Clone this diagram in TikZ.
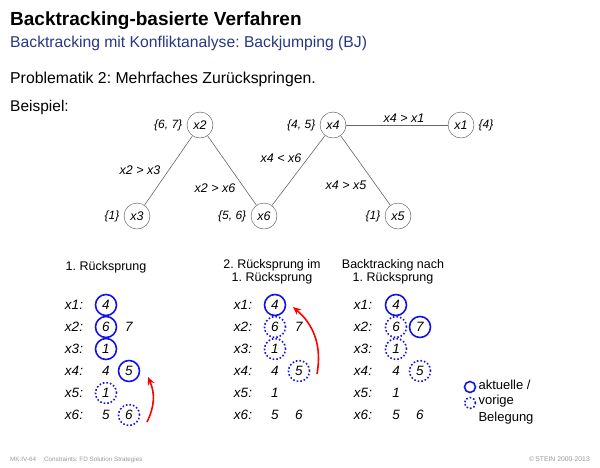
\documentclass[tikz,border=0pt]{standalone}
\usepackage{fontspec}
\setmainfont{Liberation Sans}
\usetikzlibrary{arrows.meta, positioning}
\definecolor{slideblue}{RGB}{40, 55, 130}
\definecolor{beleg}{RGB}{20, 20, 230}
\frenchspacing

\begin{document}
\begin{tikzpicture}[x=1pt, y=-1pt,
  var/.style={circle, draw=black!70, inner sep=0pt, minimum size=26pt, font=\itshape\fontsize{12.5}{12.5}\selectfont},
  dom/.style={font=\itshape\fontsize{12}{12}\selectfont},
  cons/.style={font=\itshape\fontsize{12.5}{12.5}\selectfont},
  edge/.style={draw=black!60, line width=0.6pt},
  lbl/.style={font=\itshape\fontsize{13.5}{13.5}\selectfont},
  val/.style={inner sep=0pt, minimum size=21pt, font=\itshape\fontsize{13.5}{13.5}\selectfont},
  cur/.style={val, circle, draw=beleg, line width=1.6pt},
  prev/.style={val, circle, draw=beleg, line width=1.6pt, dotted},
  head/.style={align=center, inner sep=0pt, font=\fontsize{12.5}{13}\selectfont},
  jump/.style={red, line width=1.6pt, -{Stealth[length=8pt, width=7pt]}}
]
  \useasboundingbox (0,0) rectangle (600,467);

  % title
  \node[anchor=base west, inner sep=0pt, font=\bfseries\fontsize{19}{19}\selectfont] (title) at (10,25) {Backtracking-basierte Verfahren};
  \node[anchor=base west, inner sep=0pt, text=slideblue, font=\fontsize{15.7}{15.7}\selectfont] (subtitle) at (10,47) {Backtracking mit Konfliktanalyse: Backjumping (BJ)};
  \node[anchor=base west, inner sep=0pt, font=\fontsize{15.8}{15.8}\selectfont] (problem) at (10,83) {Problematik 2: Mehrfaches Zurückspringen.};
  \node[anchor=base west, inner sep=0pt, font=\fontsize{15.5}{15.5}\selectfont] (example) at (10,111) {Beispiel:};

  % constraint graph
  \node[var] (x2) at (200,125) {x2};
  \node[var] (x4) at (333,125) {x4};
  \node[var] (x1) at (461,125) {x1};
  \node[var] (x3) at (137,216) {x3};
  \node[var] (x6) at (264,216) {x6};
  \node[var] (x5) at (398,216) {x5};

  \node[dom, left=1pt of x2] (d2) {\{6, 7\}};
  \node[dom, left=1pt of x4] (d4) {\{4, 5\}};
  \node[dom, right=1pt of x1] (d1) {\{4\}};
  \node[dom, left=1pt of x3] (d3) {\{1\}};
  \node[dom, left=1pt of x6] (d6) {\{5, 6\}};
  \node[dom, left=1pt of x5] (d5) {\{1\}};

  \draw[edge] (x2) -- (x3);
  \draw[edge] (x2) -- (x6);
  \draw[edge] (x4) -- (x6);
  \draw[edge] (x4) -- (x5);
  \draw[edge] (x4) -- (x1);

  \node[cons] (c23) at (140,170) {x2 > x3};
  \node[cons] (c26) at (215,188) {x2 > x6};
  \node[cons] (c46) at (281,158) {x4 < x6};
  \node[cons] (c45) at (346,185) {x4 > x5};
  \node[cons] (c41) at (404,118) {x4 > x1};

  % panel 1: 1. Ruecksprung
  \node[head] (h1) at (106,267) {1. Rücksprung};
  \node[lbl] (a1) at (74,305) {x1:};
  \node[lbl] (a2) at (74,327) {x2:};
  \node[lbl] (a3) at (74,349) {x3:};
  \node[lbl] (a4) at (74,371) {x4:};
  \node[lbl] (a5) at (74,393) {x5:};
  \node[lbl] (a6) at (74,415) {x6:};
  \node[cur] (a1-1) at (106,305) {4};
  \node[cur] (a2-1) at (106,327) {6};
  \node[val] (a2-2) at (129,327) {7};
  \node[cur] (a3-1) at (106,349) {1};
  \node[val] (a4-1) at (106,371) {4};
  \node[cur] (a4-2) at (129,371) {5};
  \node[prev] (a5-1) at (106,393) {1};
  \node[val] (a6-1) at (106,415) {5};
  \node[prev] (a6-2) at (129,415) {6};
  \coordinate (j1s) at (147,422);
  \coordinate (j1e) at (148,377);
  \draw[jump] (j1s) to[bend right=25] (j1e);

  % panel 2: 2. Ruecksprung im 1. Ruecksprung
  \node[head] (h2) at (272,272) {2. Rücksprung im\\1. Rücksprung};
  \node[lbl] (b1) at (243,305) {x1:};
  \node[lbl] (b2) at (243,327) {x2:};
  \node[lbl] (b3) at (243,349) {x3:};
  \node[lbl] (b4) at (243,371) {x4:};
  \node[lbl] (b5) at (243,393) {x5:};
  \node[lbl] (b6) at (243,415) {x6:};
  \node[cur] (b1-1) at (275,305) {4};
  \node[prev] (b2-1) at (275,327) {6};
  \node[val] (b2-2) at (299,327) {7};
  \node[prev] (b3-1) at (275,349) {1};
  \node[val] (b4-1) at (275,371) {4};
  \node[prev] (b4-2) at (299,371) {5};
  \node[val] (b5-1) at (275,393) {1};
  \node[val] (b6-1) at (275,415) {5};
  \node[val] (b6-2) at (299,415) {6};
  \coordinate (j2s) at (317,374);
  \coordinate (j2e) at (293,307);
  \draw[jump] (j2s) to[bend right=30] (j2e);

  % panel 3: Backtracking nach 1. Ruecksprung
  \node[head] (h3) at (393,272) {Backtracking nach\\1. Rücksprung};
  \node[lbl] (e1) at (363,305) {x1:};
  \node[lbl] (e2) at (363,327) {x2:};
  \node[lbl] (e3) at (363,349) {x3:};
  \node[lbl] (e4) at (363,371) {x4:};
  \node[lbl] (e5) at (363,393) {x5:};
  \node[lbl] (e6) at (363,415) {x6:};
  \node[cur] (e1-1) at (396,305) {4};
  \node[prev] (e2-1) at (396,327) {6};
  \node[cur] (e2-2) at (420,327) {7};
  \node[prev] (e3-1) at (396,349) {1};
  \node[val] (e4-1) at (396,371) {4};
  \node[prev] (e4-2) at (420,371) {5};
  \node[val] (e5-1) at (396,393) {1};
  \node[val] (e6-1) at (396,415) {5};
  \node[val] (e6-2) at (420,415) {6};

  % legend
  \node[circle, draw=beleg, line width=1.6pt, minimum size=11pt, inner sep=0pt] (k1) at (470,387) {};
  \node[circle, draw=beleg, line width=1.6pt, dotted, minimum size=11pt, inner sep=0pt] (k2) at (470,403) {};
  \node[anchor=west, font=\fontsize{13}{13}\selectfont] (k1t) at (475,385) {aktuelle /};
  \node[anchor=west, font=\fontsize{13}{13}\selectfont] (k2t) at (475,401) {vorige};
  \node[anchor=west, font=\fontsize{13}{13}\selectfont] (k3t) at (475,418) {Belegung};

  % footer
  \node[anchor=base west, inner sep=0pt, text=black!40, font=\fontsize{6.3}{7}\selectfont] (foot) at (10,461) {MK:IV-64\hspace{8pt}Constraints: FD Solution Strategies};
  \node[anchor=base east, inner sep=0pt, text=black!40, font=\fontsize{6.8}{7}\selectfont] (copy) at (590,461) {\textcopyright\,STEIN 2000-2013};
\end{tikzpicture}
\end{document}
